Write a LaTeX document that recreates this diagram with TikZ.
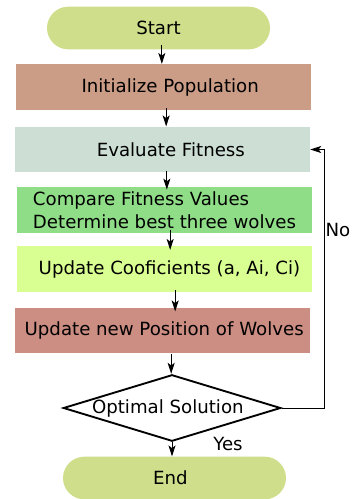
\documentclass[tikz,border=0pt]{standalone}
\usepackage{fontspec}
\setmainfont{DejaVu Sans}
\usetikzlibrary{shapes.geometric,arrows.meta}
\definecolor{termgreen}{HTML}{CFDE8A}
\definecolor{initbrown}{HTML}{CB9C86}
\definecolor{evalgrey}{HTML}{CDDFD5}
\definecolor{cmpgreen}{HTML}{90DD88}
\definecolor{coefyellow}{HTML}{D9FE92}
\definecolor{posred}{HTML}{CC8D83}
\begin{document}
\begin{tikzpicture}[x=0.03cm,y=-0.03cm,
		font=\fontsize{15.5}{19.6}\selectfont,
		box/.style={rectangle,minimum width=8.85cm,minimum height=1.37cm,inner sep=0pt},
		term/.style={rectangle,rounded corners=0.64cm,fill=termgreen,minimum width=6.69cm,minimum height=1.28cm,inner sep=0pt},
		arr/.style={-{Stealth[length=0.33cm,width=0.21cm,inset=0.08cm]},line width=0.8pt}]
		\useasboundingbox (0,0) rectangle (351,499);
		
		% Flow of the wolf optimizer
		\node[term] (start) at (158.5,28) {Start};
		\node[box,fill=initbrown] (init) at (163.5,87) {\hspace*{0.4cm}Initialize Population};
		\node[box,fill=evalgrey] (eval) at (162.5,149.5) {\hspace*{0.5cm}Evaluate Fitness};
		\node[box,fill=cmpgreen,align=left] (cmp) at (164.5,210) {Compare Fitness Values\\Determine best three wolves};
		\node[box,fill=coefyellow] (coef) at (164.5,269) {\hspace*{0.3cm}Update Cooficients (a, Ai, Ci)};
		\node[box,fill=posred] (pos) at (162.5,330.5) {\hspace*{0.1cm}Update new Position of Wolves};
		\node[diamond,draw,line width=1.6pt,aspect=3.27,minimum width=6.48cm,minimum height=1.98cm,inner sep=0pt] (opt) at (172,408) {Optimal Solution\hspace*{0.25cm}};
		\node[term] (end) at (174.5,478) {\hspace*{-0.25cm}End};
		
		% Labels of the decision
		\node (yes) at (228,444) {Yes};
		\node (no) at (338,230) {No};
		\coordinate (back) at (324,0);
		
		% Connectors
		\draw[arr] ([xshift=0.1cm,yshift=0.15cm]start.south) -- ([xshift=0.1cm]start.south |- init.north);
		\draw[arr] ([xshift=0.08cm,yshift=0.05cm]init.south) -- ([xshift=0.08cm]init.south |- eval.north);
		\draw[arr] ([xshift=0.13cm,yshift=0.05cm]eval.south) -- ([xshift=0.13cm,yshift=-0.08cm]eval.south |- cmp.north);
		\draw[arr] ([xshift=0.17cm,yshift=0.08cm]cmp.south) -- ([xshift=0.17cm,yshift=-0.12cm]cmp.south |- coef.north);
		\draw[arr] ([xshift=0.32cm,yshift=0.05cm]coef.south) -- ([xshift=0.32cm,yshift=-0.12cm]coef.south |- pos.north);
		\draw[arr] ([xshift=0.26cm]pos.south) -- ([xshift=0.26cm]pos.south |- opt.north);
		\draw[arr] (opt.south) -- (opt.south |- end.north);
		\draw[arr,line width=0.6pt] (opt.east) -| (back |- eval.east) -- (eval.east);
	\end{tikzpicture}
\end{document}
